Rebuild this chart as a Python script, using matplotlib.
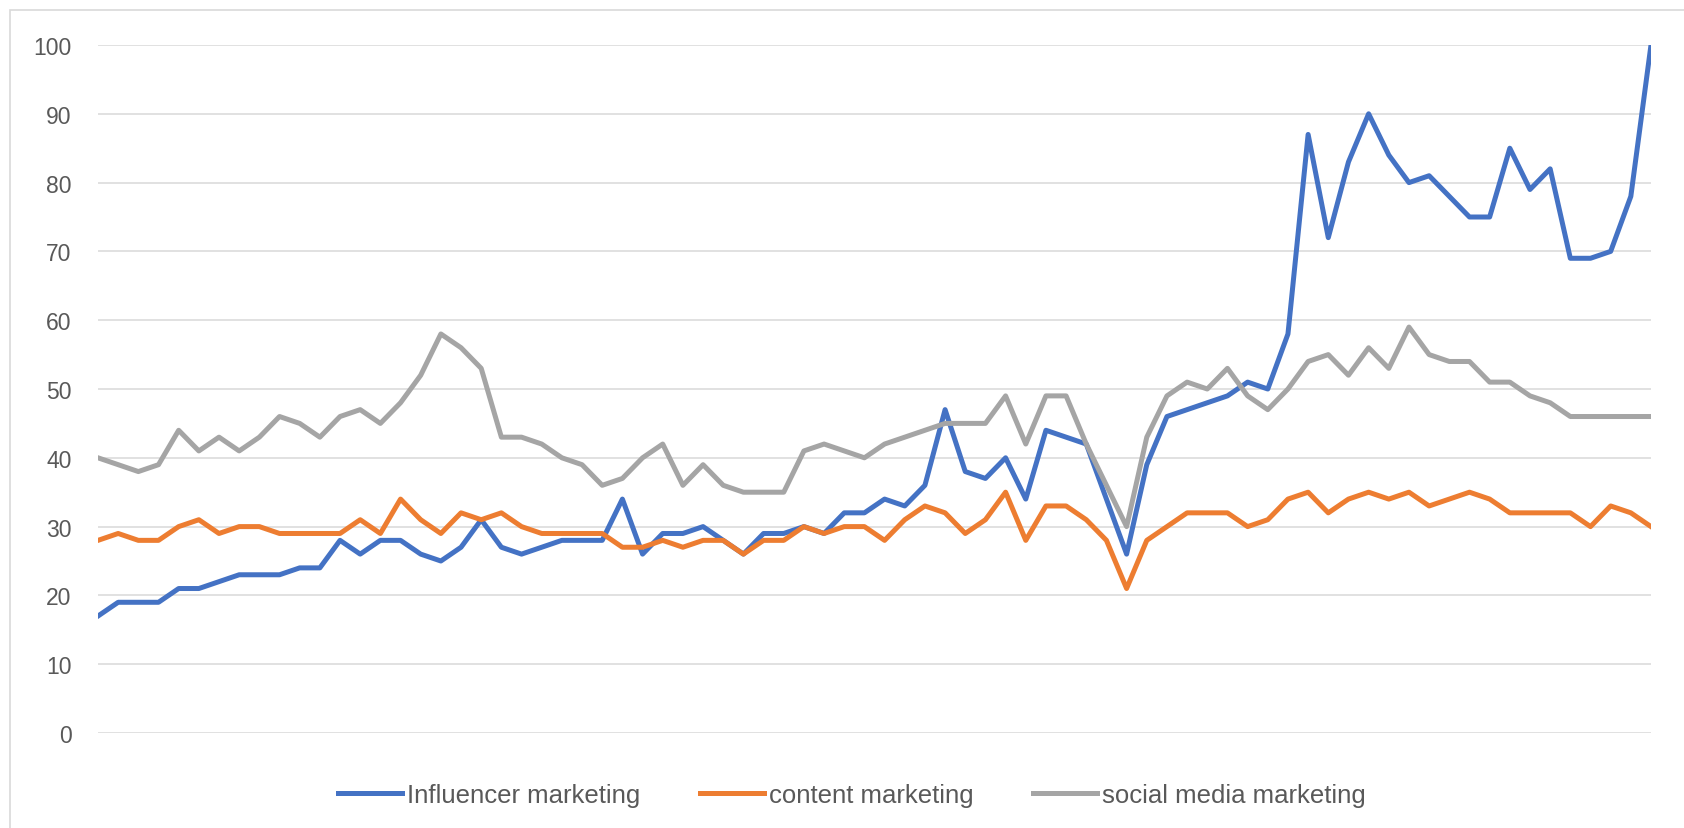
import matplotlib.pyplot as plt
from matplotlib.patches import Rectangle
import numpy as np

# weekly search interest, 78 points
influencer = [17, 19, 19, 19, 21, 21, 22, 23, 23, 23, 24, 24, 28, 26, 28, 28,
              26, 25, 27, 31, 27, 26, 27, 28, 28, 28, 34, 26, 29, 29, 30, 28,
              26, 29, 29, 30, 29, 32, 32, 34, 33, 36, 47, 38, 37, 40, 34, 44,
              43, 42, 34, 26, 39, 46, 47, 48, 49, 51, 50, 58, 87, 72, 83, 90,
              84, 80, 81, 78, 75, 75, 85, 79, 82, 69, 69, 70, 78, 100]
content = [28, 29, 28, 28, 30, 31, 29, 30, 30, 29, 29, 29, 29, 31, 29, 34,
           31, 29, 32, 31, 32, 30, 29, 29, 29, 29, 27, 27, 28, 27, 28, 28,
           26, 28, 28, 30, 29, 30, 30, 28, 31, 33, 32, 29, 31, 35, 28, 33,
           33, 31, 28, 21, 28, 30, 32, 32, 32, 30, 31, 34, 35, 32, 34, 35,
           34, 35, 33, 34, 35, 34, 32, 32, 32, 32, 30, 33, 32, 30]
social = [40, 39, 38, 39, 44, 41, 43, 41, 43, 46, 45, 43, 46, 47, 45, 48,
          52, 58, 56, 53, 43, 43, 42, 40, 39, 36, 37, 40, 42, 36, 39, 36,
          35, 35, 35, 41, 42, 41, 40, 42, 43, 44, 45, 45, 45, 49, 42, 49,
          49, 42, 36, 30, 43, 49, 51, 50, 53, 49, 47, 50, 54, 55, 52, 56,
          53, 59, 55, 54, 54, 51, 51, 49, 48, 46, 46, 46, 46, 46]
labels = ['Influencer marketing', 'content marketing', 'social media marketing']
colors = ['#4472C4', '#ED7D31', '#A5A5A5']
yticks = list(range(0, 101, 10))

plt.rcParams['font.family'] = ['Liberation Sans', 'DejaVu Sans']

fig = plt.figure(figsize=(16.84, 8.29), dpi=100)
ax = fig.add_axes([98 / 1684, 1 - 734 / 829, (1651 - 98) / 1684, (734 - 46) / 829])

x = np.arange(len(influencer))
for series, lab, col in zip([influencer, content, social], labels, colors):
    ax.plot(x, series, color=col, lw=3.6, label=lab, solid_joinstyle='round')

ax.set_xlim(0, len(influencer) - 1)
ax.set_ylim(0, 100)
ax.set_yticks(yticks)
ax.set_xticks([])
ax.yaxis.grid(True, color='#D9D9D9', lw=1.1)
ax.set_axisbelow(True)
for s in ax.spines.values():
    s.set_visible(False)
ax.tick_params(axis='y', length=0, pad=19, labelsize=16.5, labelcolor='#595959')

fig.legend(loc='center', bbox_to_anchor=(852 / 1684, 1 - 796 / 829), ncol=3,
           frameon=False, fontsize=18.5, labelcolor='#595959',
           handlelength=2.5, handletextpad=0.2, columnspacing=2.3)

# light chart-area border (only top and left edge visible in the crop)
fig.patches.append(Rectangle((10 / 1684, -0.1), 1.2, 1 - 11 / 829 + 0.1,
                             transform=fig.transFigure, fill=False,
                             edgecolor='#D9D9D9', lw=1.2))

plt.savefig('out.png', dpi=100)
